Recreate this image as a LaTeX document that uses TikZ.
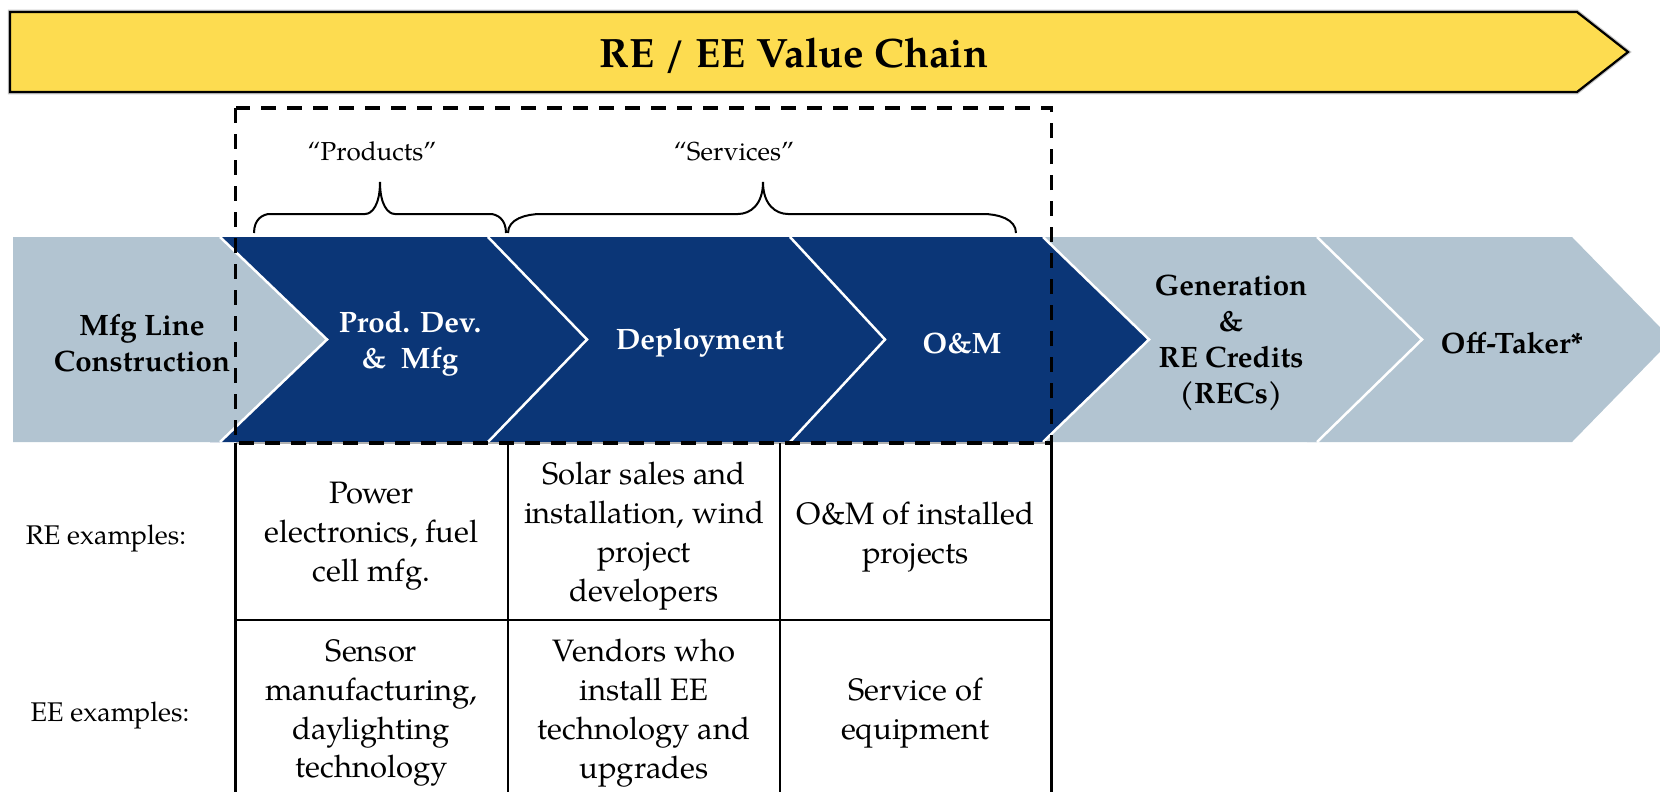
\documentclass[tikz,border=0pt]{standalone}
\usepackage{fontspec}
\setmainfont{TeX Gyre Pagella}
\definecolor{bannerYellow}{RGB}{253,220,80}
\definecolor{chainNavy}{RGB}{11,54,119}
\definecolor{chainGrey}{RGB}{178,196,209}
\tikzset{
  titletext/.style={font=\fontsize{41}{48}\selectfont\bfseries, inner sep=0pt},
  stagetext/.style={font=\fontsize{29.5}{36}\selectfont\bfseries, align=center, inner sep=0pt},
  darkstage/.style={stagetext, text=white},
  lightstage/.style={stagetext, text=black},
  bracelabel/.style={font=\fontsize{26}{30}\selectfont, inner sep=0pt},
  celltext/.style={font=\fontsize{31}{38.8}\selectfont, align=center, inner sep=0pt},
  rowlabel/.style={font=\fontsize{27}{32}\selectfont, inner sep=0pt},
  tipline/.style={white, line width=2.5pt},
  bracepath/.style={black, line width=2pt},
  gridline/.style={black, line width=2.3pt},
  scopebox/.style={black, line width=3.5pt, dash pattern=on 15pt off 11pt},
}
\begin{document}
\begin{tikzpicture}[x=1pt, y=-1pt]
\useasboundingbox (0,0) rectangle (1660,792);

% ---- title banner ----
\draw[gray!45, line width=4.5pt, line join=miter]
  (10,12) -- (1577,12) -- (1628,52) -- (1577,92) -- (10,92) -- cycle;
\draw[fill=bannerYellow, line width=2.2pt, line join=miter]
  (10,12) -- (1577,12) -- (1628,52) -- (1577,92) -- (10,92) -- cycle;
\node[titletext, anchor=base] (title) at (794,67) {RE / EE Value Chain};

% ---- chevron row (drawn right to left so each tip sits on the next) ----
\fill[chainGrey] (1307,237) -- (1572,237) -- (1672,339.5) -- (1572,442) -- (1307,442) -- cycle;
\fill[chainGrey] (1033,237) -- (1317,237) -- (1422,339.5) -- (1317,442) -- (1033,442) -- cycle;
\draw[tipline] (1317,237) -- (1422,339.5) -- (1317,442);
\fill[chainNavy] (780,237) -- (1043,237) -- (1149,339.5) -- (1043,442) -- (780,442) -- cycle;
\draw[tipline] (1043,237) -- (1149,339.5) -- (1043,442);
\fill[chainNavy] (478,237) -- (790,237) -- (885,339.5) -- (790,442) -- (478,442) -- cycle;
\draw[tipline] (790,237) -- (885,339.5) -- (790,442);
\fill[chainNavy] (210,237) -- (488,237) -- (587,339.5) -- (488,442) -- (210,442) -- cycle;
\draw[tipline] (488,237) -- (587,339.5) -- (488,442);
\fill[chainGrey] (13,237) -- (220,237) -- (327,339.5) -- (220,442) -- (13,442) -- cycle;
\draw[tipline] (220,237) -- (327,339.5) -- (220,442);

\node[lightstage] (mfgline) at (142,343) {Mfg Line\\Construction};
\node[darkstage] (proddev) at (410,344) {Prod. Dev.\\\&\ \ Mfg};
\node[darkstage] (deploy) at (700,343) {Deployment};
\node[darkstage] (om) at (962,343) {O\&M};
\node[lightstage] (generation) at (1231,343) {Generation\\\&\\RE Credits\\(RECs)};
\node[lightstage] (offtaker) at (1512,343) {Off-Taker*};

% ---- braces ----
\draw[bracepath] (254,233) .. controls (254,219) and (263,214) .. (270,214)
  -- (365,214) .. controls (372,214) and (380,205) .. (380,182)
  .. controls (380,205) and (388,214) .. (395,214)
  -- (490,214) .. controls (497,214) and (506,219) .. (506,233);
\draw[bracepath] (508,233) .. controls (508,219) and (526,214) .. (541,214)
  -- (738,214) .. controls (750,214) and (763,205) .. (763,182)
  .. controls (763,205) and (776,214) .. (788,214)
  -- (983,214) .. controls (998,214) and (1016,219) .. (1016,233);
\node[bracelabel, anchor=base] (products) at (372,160) {“Products”};
\node[bracelabel, anchor=base] (services) at (734,160) {“Services”};

% ---- examples table ----
\draw[gray!60, line width=2.3pt] (235.5,443) -- (1051.5,443);
\draw[gridline] (235.5,443) -- (235.5,800);
\draw[gridline] (508,443) -- (508,800);
\draw[gridline] (780,443) -- (780,800);
\draw[gridline] (1051.5,443) -- (1051.5,800);
\draw[gridline] (235.5,620) -- (1051.5,620);

% ---- dashed scope frame ----
\draw[scopebox] (235.5,108) rectangle (1051.5,443);

\node[rowlabel] (relabel) at (106,538) {RE examples:};
\node[rowlabel] (eelabel) at (110,715) {EE examples:};

\node[celltext] (re1) at (371.5,536) {Power\\electronics, fuel\\cell mfg.};
\node[celltext] (re2) at (644,536) {Solar sales and\\installation, wind\\project\\developers};
\node[celltext] (re3) at (915.5,537) {O\&M of installed\\projects};
\node[celltext] (ee1) at (371.5,713) {Sensor\\manufacturing,\\daylighting\\technology};
\node[celltext] (ee2) at (644,713) {Vendors who\\install EE\\technology and\\upgrades};
\node[celltext] (ee3) at (915.5,713) {Service of\\equipment};
\end{tikzpicture}
\end{document}
